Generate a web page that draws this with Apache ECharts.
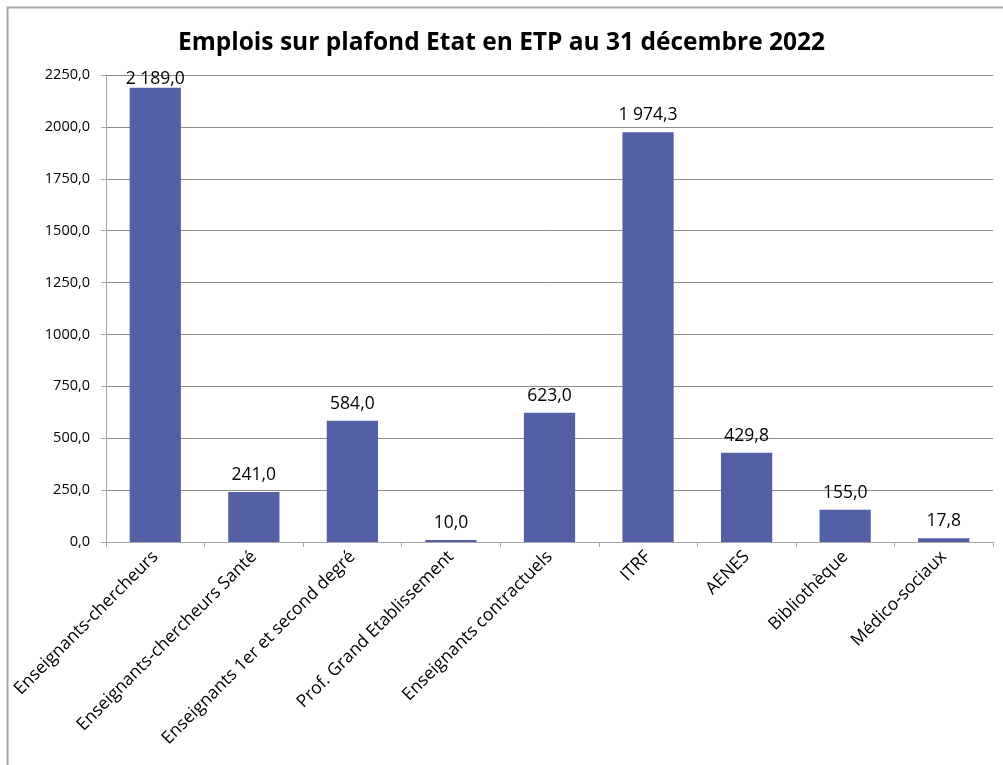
<!DOCTYPE html>
<html>
<head>
<meta charset="utf-8">
<script src="https://cdn.jsdelivr.net/npm/echarts@6/dist/echarts.min.js"></script>
<style>
  html, body { margin: 0; padding: 0; background: #fff; }
  #chart { width: 1003px; height: 765px; }
</style>
</head>
<body>
<div id="chart"></div>
<script>
// catégories et valeurs (ETP)
const categories = [
  "Enseignants-chercheurs",
  "Enseignants-chercheurs Santé",
  "Enseignants 1er et second degré",
  "Prof. Grand Etablissement",
  "Enseignants contractuels",
  "ITRF",
  "AENES",
  "Bibliothèque",
  "Médico-sociaux"
];
const values = [2189.0, 241.0, 584.0, 10.0, 623.0, 1974.3, 429.8, 155.0, 17.8];
const titleText = "Emplois sur plafond Etat en ETP au 31 décembre 2022";

const font = "'Open Sans', 'DejaVu Sans', sans-serif";

// 2189 -> "2 189,0"
const fmtLabel = (v) => {
  const parts = v.toFixed(1).split(".");
  const int = parts[0].replace(/\B(?=(\d{3})+(?!\d))/g, " ");
  return int + "," + parts[1];
};

// label pushed down when it would leave the plot area (like Excel does)
const barData = values.map((v) =>
  v > 2150 ? { value: v, label: { distance: 0 } } : v
);

const chart = echarts.init(document.getElementById("chart"), null, { renderer: "canvas" });

chart.setOption({
  animation: false,
  backgroundColor: "#fff",
  title: {
    text: titleText,
    left: "center",
    top: 26,
    textStyle: {
      fontFamily: font,
      fontSize: 24.5,
      fontWeight: "bold",
      color: "#000"
    }
  },
  grid: {
    left: 106,
    right: 10,
    top: 75,
    bottom: 223
  },
  xAxis: {
    type: "category",
    data: categories,
    axisLine: { lineStyle: { color: "#a6a6a6", width: 1 } },
    axisTick: { show: true, length: 5, lineStyle: { color: "#a6a6a6" } },
    axisLabel: {
      rotate: 45,
      interval: 0,
      margin: 12,
      fontFamily: font,
      fontSize: 17.5,
      color: "#000"
    }
  },
  yAxis: {
    type: "value",
    min: 0,
    max: 2250,
    interval: 250,
    axisLine: { show: true, lineStyle: { color: "#a6a6a6" } },
    axisTick: { show: true, length: 5, lineStyle: { color: "#a6a6a6" } },
    splitLine: { lineStyle: { color: "#8c8c8c", width: 1 } },
    axisLabel: {
      margin: 16,
      fontFamily: font,
      fontSize: 14.5,
      color: "#000",
      formatter: (v) => v.toFixed(1).replace(".", ",")
    }
  },
  series: [
    {
      type: "bar",
      data: barData,
      barWidth: "52%",
      itemStyle: { color: "#5460a5" },
      label: {
        show: true,
        position: "top",
        distance: 8,
        fontFamily: font,
        fontSize: 17.5,
        color: "#000",
        formatter: (p) => fmtLabel(p.value)
      }
    }
  ],
  graphic: [
    {
      type: "polyline",
      silent: true,
      shape: { points: [[7.5, 765], [7.5, 7.5], [1003, 7.5]] },
      style: { stroke: "#a6a6a6", lineWidth: 2, fill: null }
    }
  ]
});
</script>
</body>
</html>
